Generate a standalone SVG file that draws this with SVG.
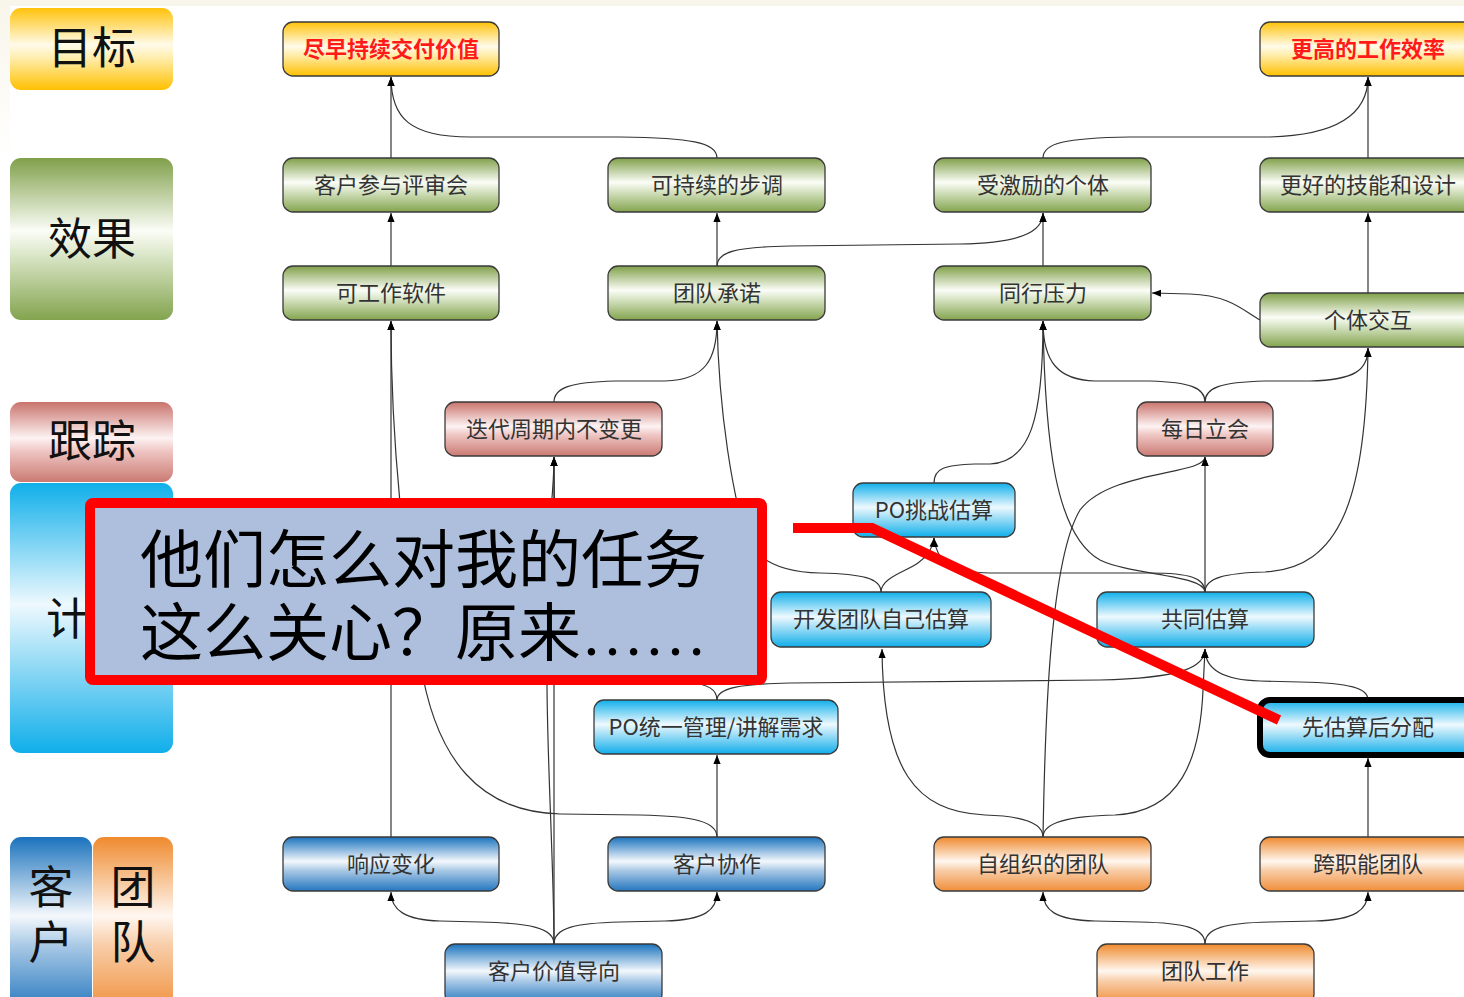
<svg xmlns="http://www.w3.org/2000/svg" width="1464" height="997" viewBox="0 0 1464 997">
<style>
.lbl{font-family:"Noto Sans CJK SC","Noto Sans",sans-serif;font-size:44px;fill:#111;text-anchor:middle}
.vl{font-family:"Noto Sans CJK SC","Noto Sans",sans-serif;font-size:45px;fill:#111;writing-mode:vertical-rl;letter-spacing:10px}
.nt{font-family:"Noto Sans CJK SC","Noto Sans",sans-serif;font-size:22px;fill:#333;text-anchor:middle}
.gt{font-family:"Noto Sans CJK SC","Noto Sans",sans-serif;font-size:22px;font-weight:bold;fill:#ff1a1a;text-anchor:middle}
.nd{stroke:#3a3a3a;stroke-width:1.3}
.ca{fill:none;stroke:#333;stroke-width:1.2;marker-end:url(#arr)}
.ct{font-family:"Noto Sans CJK SC",sans-serif;font-size:63px;fill:#000}
</style>
<defs>
<marker id="arr" viewBox="0 0 10 8" refX="10" refY="4" markerWidth="9" markerHeight="8" markerUnits="userSpaceOnUse" orient="auto">
<path d="M0,0 L10,4 L0,8 z" fill="#000"/>
</marker>
<linearGradient id="gY" x1="0" y1="0" x2="0" y2="1">
<stop offset="0" stop-color="#ffc20a"/><stop offset="0.45" stop-color="#fffbea"/><stop offset="0.6" stop-color="#ffeeb0"/><stop offset="1" stop-color="#ffc000"/>
</linearGradient>
<linearGradient id="gG" x1="0" y1="0" x2="0" y2="1">
<stop offset="0" stop-color="#80a04a"/><stop offset="0.45" stop-color="#fbfdf7"/><stop offset="0.62" stop-color="#d6e3c2"/><stop offset="1" stop-color="#83a44e"/>
</linearGradient>
<linearGradient id="gR" x1="0" y1="0" x2="0" y2="1">
<stop offset="0" stop-color="#c9736c"/><stop offset="0.45" stop-color="#fdf3f3"/><stop offset="0.62" stop-color="#eec4c1"/><stop offset="1" stop-color="#cb7a73"/>
</linearGradient>
<linearGradient id="gC" x1="0" y1="0" x2="0" y2="1">
<stop offset="0" stop-color="#10afea"/><stop offset="0.45" stop-color="#eef9fe"/><stop offset="0.62" stop-color="#a9e1f7"/><stop offset="1" stop-color="#10aeea"/>
</linearGradient>
<linearGradient id="gB" x1="0" y1="0" x2="0" y2="1">
<stop offset="0" stop-color="#1a72bd"/><stop offset="0.45" stop-color="#f4f8fc"/><stop offset="0.62" stop-color="#a9c9e6"/><stop offset="1" stop-color="#2476be"/>
</linearGradient>
<linearGradient id="gO" x1="0" y1="0" x2="0" y2="1">
<stop offset="0" stop-color="#ef8a2e"/><stop offset="0.45" stop-color="#fff7f0"/><stop offset="0.62" stop-color="#f8cda8"/><stop offset="1" stop-color="#f08f3a"/>
</linearGradient>
<linearGradient id="gBg" x1="0" y1="0" x2="0" y2="1">
<stop offset="0" stop-color="#f8f5ea"/><stop offset="1" stop-color="#ffffff"/>
</linearGradient>
</defs>
<rect x="0" y="0" width="1464" height="997" fill="#ffffff"/>
<rect x="0" y="0" width="1464" height="6" fill="#f8f5ea"/>
<rect x="0" y="0" width="10" height="160" fill="url(#gBg)"/>

<g id="legend">
<rect x="10" y="8" width="163" height="82" rx="11" fill="url(#gY)"/>
<text class="lbl" x="92" y="64">目标</text>
<rect x="10" y="158" width="163" height="162" rx="11" fill="url(#gG)"/>
<text class="lbl" x="92" y="255">效果</text>
<rect x="10" y="402" width="163" height="80" rx="11" fill="url(#gR)"/>
<text class="lbl" x="92" y="457">跟踪</text>
<rect x="10" y="483" width="163" height="270" rx="11" fill="url(#gC)"/>
<text class="lbl" x="90" y="635">计划</text>
<rect x="10" y="837" width="82" height="175" rx="11" fill="url(#gB)"/>
<text class="vl" x="51" y="864">客户</text>
<rect x="93" y="837" width="80" height="175" rx="11" fill="url(#gO)"/>
<text class="vl" x="133" y="864">团队</text>
</g>

<g id="connectors">
<path class="ca" d="M391,158 L391,77"/>
<path class="ca" d="M717,158 C717,142 690,138 620,137 L470,137 C410,137 391,118 391,77"/>
<path class="ca" d="M391,266 L391,213"/>
<path class="ca" d="M717,266 L717,213"/>
<path class="ca" d="M717,266 C717,252 735,247 790,246 L960,244 C1020,243 1043,232 1043,213"/>
<path class="ca" d="M1043,266 L1043,213"/>
<path class="ca" d="M1043,158 C1043,143 1065,138 1130,137 L1270,137 C1340,135 1368,112 1368,77"/>
<path class="ca" d="M1368,158 L1368,77"/>
<path class="ca" d="M1368,293 L1368,213"/>
<path class="ca" d="M1260,320 C1245,312 1230,295 1190,294 L1152,293"/>
<path class="ca" d="M554,402 C554,388 570,382 615,381 L665,381 C705,380 717,360 717,321"/>
<path class="ca" d="M1205,402 C1205,388 1190,382 1150,381 L1095,381 C1058,380 1043,362 1043,321"/>
<path class="ca" d="M1205,402 C1205,388 1220,382 1265,381 L1310,381 C1355,380 1368,370 1368,348"/>
<path class="ca" d="M934,483 C934,468 945,465 975,464 L990,464 C1030,462 1043,420 1043,321"/>
<path class="ca" d="M1205,592 C1205,575 1130,575 1100,560 C1055,535 1045,440 1043,321"/>
<path class="ca" d="M1205,592 C1205,578 1225,573 1265,572 C1340,568 1366,500 1368,348"/>
<path class="ca" d="M1205,592 L1205,457"/>
<path class="ca" d="M1205,592 C1205,578 1190,573 1150,573 L990,573 C950,572 936,560 934,538"/>
<path class="ca" d="M881,592 C881,578 905,572 918,563 C928,556 933,548 934,538"/>
<path class="ca" d="M881,592 C881,578 862,574 820,573 C780,572 752,560 744,530 C734,495 719,420 717,321"/>
<path class="ca" d="M554,944 C554,928 530,923 480,922 L440,921 C405,920 391,910 391,892"/>
<path class="ca" d="M554,944 C554,928 575,923 620,922 L665,921 C705,920 717,910 717,892"/>
<path class="ca" d="M554,944 L554,457"/>
<path class="ca" d="M554,944 C554,870 547,760 547,680 L550,520 C552,500 554,480 554,457"/>
<path class="ca" d="M717,837 L717,755"/>
<path class="ca" d="M717,837 C717,822 695,816 640,815 L560,814 C480,812 435,760 420,660 C405,560 391,450 391,321"/>
<path class="ca" d="M391,837 L391,321"/>
<path class="ca" d="M717,700 C717,688 740,684 790,683 L1100,680 C1180,678 1205,668 1205,649"/>
<path class="ca" d="M717,700 C717,690 708,684 690,683 L600,683 C565,682 554,600 554,457"/>
<path class="ca" d="M1043,837 C1043,822 1020,816 985,815 C915,812 883,770 882,649"/>
<path class="ca" d="M1043,837 C1045,720 1050,560 1080,510 C1110,470 1205,475 1205,457"/>
<path class="ca" d="M1043,837 C1043,822 1070,816 1115,815 C1180,812 1200,760 1203,690 L1205,649"/>
<path class="ca" d="M1205,944 C1205,928 1185,923 1140,922 L1095,921 C1055,920 1043,910 1043,892"/>
<path class="ca" d="M1205,944 C1205,928 1225,923 1270,922 L1315,921 C1355,920 1368,910 1368,892"/>
<path class="ca" d="M1368,837 L1368,758"/>
<path class="ca" d="M1368,700 C1368,688 1350,683 1300,682 L1260,681 C1220,680 1205,668 1205,649"/>
</g>

<g id="n-goal1"><rect class="nd" x="283" y="22" width="216" height="54" rx="10" fill="url(#gY)"/><text class="gt" x="391" y="57">尽早持续交付价值</text></g>
<g id="n-goal2"><rect class="nd" x="1260" y="22" width="216" height="54" rx="10" fill="url(#gY)"/><text class="gt" x="1368" y="57">更高的工作效率</text></g>

<g id="n-review"><rect class="nd" x="283" y="158" width="216" height="54" rx="10" fill="url(#gG)"/><text class="nt" x="391" y="193">客户参与评审会</text></g>
<g id="n-pace"><rect class="nd" x="608" y="158" width="217" height="54" rx="10" fill="url(#gG)"/><text class="nt" x="717" y="193">可持续的步调</text></g>
<g id="n-motivated"><rect class="nd" x="934" y="158" width="217" height="54" rx="10" fill="url(#gG)"/><text class="nt" x="1043" y="193">受激励的个体</text></g>
<g id="n-skills"><rect class="nd" x="1260" y="158" width="216" height="54" rx="10" fill="url(#gG)"/><text class="nt" x="1368" y="193">更好的技能和设计</text></g>

<g id="n-software"><rect class="nd" x="283" y="266" width="216" height="54" rx="10" fill="url(#gG)"/><text class="nt" x="391" y="301">可工作软件</text></g>
<g id="n-commit"><rect class="nd" x="608" y="266" width="217" height="54" rx="10" fill="url(#gG)"/><text class="nt" x="717" y="301">团队承诺</text></g>
<g id="n-peer"><rect class="nd" x="934" y="266" width="217" height="54" rx="10" fill="url(#gG)"/><text class="nt" x="1043" y="301">同行压力</text></g>
<g id="n-interact"><rect class="nd" x="1260" y="293" width="216" height="54" rx="10" fill="url(#gG)"/><text class="nt" x="1368" y="328">个体交互</text></g>

<g id="n-nochange"><rect class="nd" x="445" y="402" width="217" height="54" rx="10" fill="url(#gR)"/><text class="nt" x="554" y="437">迭代周期内不变更</text></g>
<g id="n-standup"><rect class="nd" x="1137" y="402" width="136" height="54" rx="10" fill="url(#gR)"/><text class="nt" x="1205" y="437">每日立会</text></g>

<g id="n-pochallenge"><rect class="nd" x="853" y="483" width="162" height="54" rx="10" fill="url(#gC)"/><text class="nt" x="934" y="518">PO挑战估算</text></g>
<g id="n-devestimate"><rect class="nd" x="771" y="592" width="220" height="55" rx="10" fill="url(#gC)"/><text class="nt" x="881" y="627">开发团队自己估算</text></g>
<g id="n-jointestimate"><rect class="nd" x="1097" y="592" width="217" height="55" rx="10" fill="url(#gC)"/><text class="nt" x="1205" y="627">共同估算</text></g>
<g id="n-pomanage"><rect class="nd" x="594" y="700" width="244" height="54" rx="10" fill="url(#gC)"/><text class="nt" x="716" y="735">PO统一管理/讲解需求</text></g>
<g id="n-estfirst"><rect x="1260" y="700" width="216" height="55" rx="10" fill="url(#gC)" stroke="#000" stroke-width="6"/><text class="nt" x="1368" y="735">先估算后分配</text></g>

<g id="n-respond"><rect class="nd" x="283" y="837" width="216" height="54" rx="10" fill="url(#gB)"/><text class="nt" x="391" y="872">响应变化</text></g>
<g id="n-collab"><rect class="nd" x="608" y="837" width="217" height="54" rx="10" fill="url(#gB)"/><text class="nt" x="717" y="872">客户协作</text></g>
<g id="n-selforg"><rect class="nd" x="934" y="837" width="217" height="54" rx="10" fill="url(#gO)"/><text class="nt" x="1043" y="872">自组织的团队</text></g>
<g id="n-crossfunc"><rect class="nd" x="1260" y="837" width="216" height="54" rx="10" fill="url(#gO)"/><text class="nt" x="1368" y="872">跨职能团队</text></g>
<g id="n-value"><rect class="nd" x="445" y="944" width="217" height="60" rx="10" fill="url(#gB)"/><text class="nt" x="554" y="979">客户价值导向</text></g>
<g id="n-teamwork"><rect class="nd" x="1097" y="944" width="217" height="60" rx="10" fill="url(#gO)"/><text class="nt" x="1205" y="979">团队工作</text></g>

<g id="callout">
<rect x="90" y="503" width="672" height="177" rx="3" fill="#adbfdc" stroke="#ff0000" stroke-width="10"/>
<text class="ct" x="140" y="582">他们怎么对我的任务<tspan x="140" y="655">这么关心？原来</tspan><tspan font-family="Liberation Serif">……</tspan></text>
<polyline points="793,528 872,528 1279,720" fill="none" stroke="#ff0000" stroke-width="10"/>
</g>
</svg>
